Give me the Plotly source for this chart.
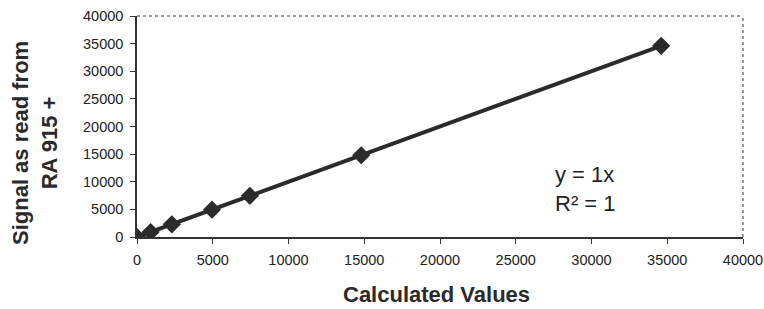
import plotly.graph_objects as go

calculated = [0, 900, 2300, 4950, 7450, 14800, 34600]
signal = [0, 900, 2300, 4950, 7450, 14800, 34600]
x_ticks = [0, 5000, 10000, 15000, 20000, 25000, 30000, 35000, 40000]
y_ticks = [0, 5000, 10000, 15000, 20000, 25000, 30000, 35000, 40000]

fig = go.Figure()
fig.add_trace(go.Scatter(
    x=calculated, y=signal, mode="lines+markers",
    line=dict(color="#2b2b2b", width=4),
    marker=dict(symbol="diamond", size=14, color="#2b2b2b"),
    showlegend=False,
))

axis_common = dict(
    showgrid=False, zeroline=False, showline=True, linecolor="#333333", linewidth=1.5,
    ticks="outside", ticklen=5, tickcolor="#333333", automargin=False,
    tickfont=dict(family="Arial, Liberation Sans", size=14.5, color="#222222"),
)
fig.update_xaxes(range=[0, 40000], tickvals=x_ticks, ticktext=[str(v) for v in x_ticks],
                 ticklabelstandoff=4, **axis_common)
fig.update_yaxes(range=[0, 40000], tickvals=y_ticks, ticktext=[str(v) for v in y_ticks],
                 ticklabelstandoff=4, **axis_common)

fig.update_layout(
    width=764, height=309,
    margin=dict(l=137, r=21, t=16, b=72),
    paper_bgcolor="white", plot_bgcolor="white",
    shapes=[
        dict(type="line", xref="paper", yref="paper", x0=0, x1=1, y0=1, y1=1,
             line=dict(color="#999999", width=2, dash="dot")),
        dict(type="line", xref="paper", yref="paper", x0=1, x1=1, y0=0, y1=1,
             line=dict(color="#999999", width=2, dash="dot")),
    ],
    annotations=[
        dict(text="y = 1x<br>R² = 1", xref="paper", yref="paper", x=0.686, y=0.217,
             xanchor="left", yanchor="middle", align="left", showarrow=False,
             font=dict(family="Arial, Liberation Sans", size=22, color="#222222")),
        dict(text="<b>Calculated Values</b>", xref="paper", yref="paper",
             x=(436 - 137) / 606, y=-(294 - 237) / 221, xanchor="center", yanchor="middle",
             showarrow=False, font=dict(family="Arial, Liberation Sans", size=22, color="#2a2a2a")),
        dict(text="<b>Signal as read from<br>RA 915 +</b>", xref="paper", yref="paper",
             x=-(137 - 35) / 606, y=(237 - 143) / 221, xanchor="center", yanchor="middle",
             textangle=-90, showarrow=False,
             font=dict(family="Arial, Liberation Sans", size=22, color="#2a2a2a")),
    ],
)

post = ("document.documentElement.style.overflow='hidden';"
        "document.body.style.margin='0';document.body.style.overflow='hidden';")
fig.write_html("out.html", config={"displayModeBar": False}, post_script=post)
